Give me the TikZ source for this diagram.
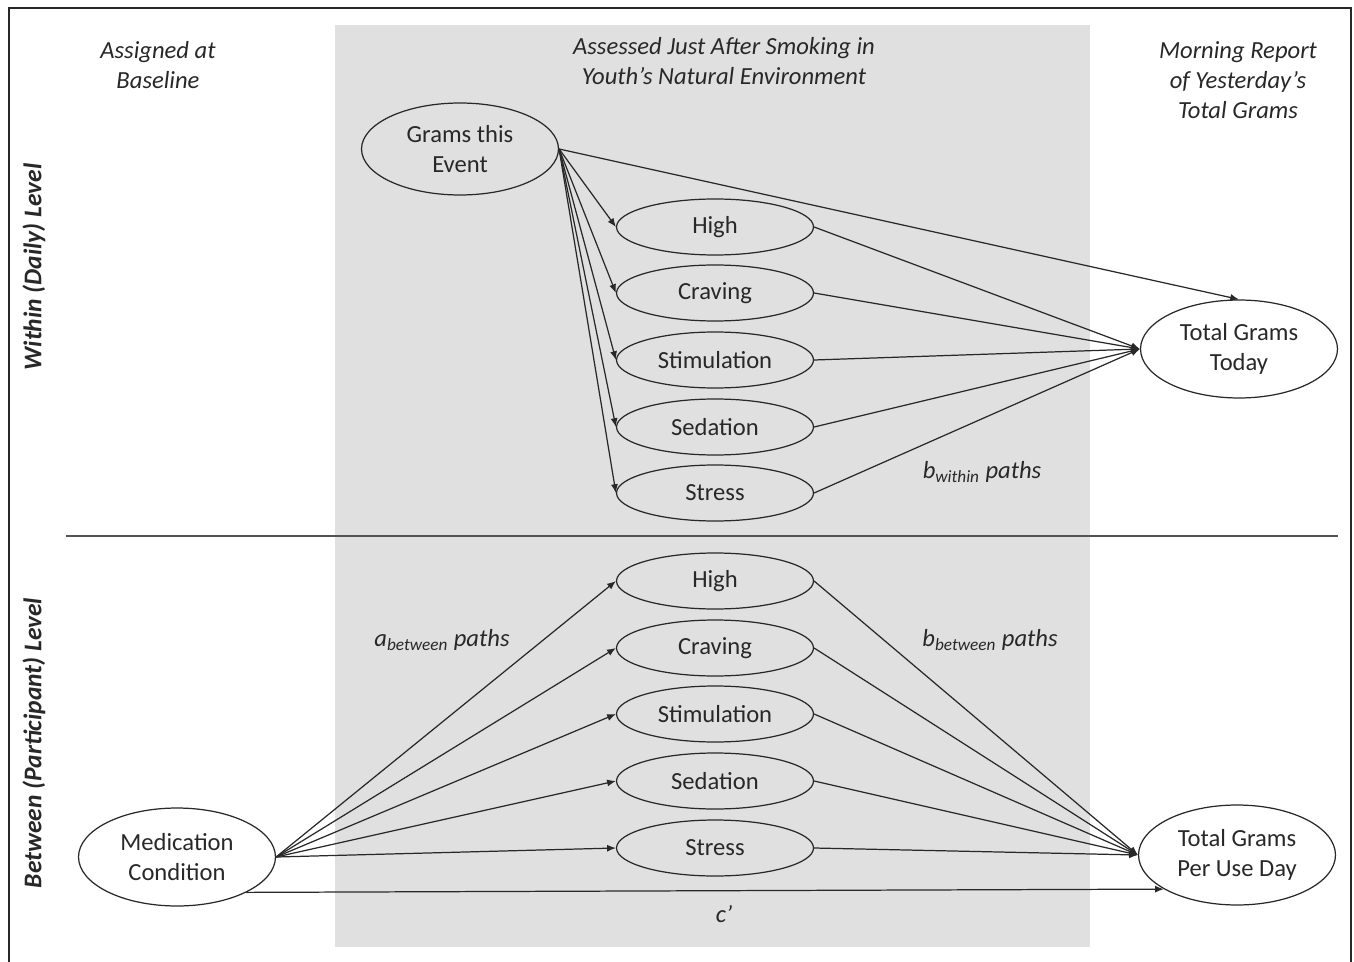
\documentclass[tikz,border=0pt]{standalone}
\usepackage{fontspec}
\setmainfont{Carlito}
\usetikzlibrary{shapes.geometric, arrows.meta}
\definecolor{Panelgray}{RGB}{224,224,224}
\definecolor{Inkgray}{RGB}{40,40,40}

\begin{document}
\begin{tikzpicture}[x=0.02cm, y=-0.02cm,
        txt/.style={text=Inkgray, font=\fontsize{14}{17}\selectfont, align=center},
        hd/.style={txt, font=\fontsize{14}{17}\selectfont\itshape},
        side/.style={txt, font=\fontsize{14.5}{17}\selectfont\bfseries\itshape, rotate=90},
        oval/.style={txt, draw=Inkgray, ellipse, inner sep=0pt, line width=0.7pt, minimum width=3.94cm},
        med/.style={oval, minimum height=1.12cm},
        arr/.style={draw=Inkgray, line width=0.7pt, ->, >={Latex[length=5pt,width=4pt]}}]
      \useasboundingbox (0,0) rectangle (1354,962);
      \fill[Panelgray] (335,25) rectangle (1090,947);
      \draw[Inkgray, line width=1.4pt] (9,962) -- (9,8) -- (1351,8) -- (1351,962);
      \draw[Inkgray!80, line width=0.8pt] (66,536) -- (1338,536);
      % column and row headings
      \node[hd] (hbase) at (158,65){Assigned at\\Baseline};
      \node[hd] (hjust) at (724,61){Assessed Just After Smoking in\\Youth’s Natural Environment};
      \node[hd] (hmorn) at (1238,80){Morning Report\\of Yesterday’s\\Total Grams};
      \node[side] (lwithin) at (34,267){Within (Daily) Level};
      \node[side] (lbetween) at (34,743){Between (Participant) Level};
      % within level
      \node[oval, minimum height=1.84cm] (ev) at (460,149){Grams this\\Event};
      \node[oval, minimum height=1.96cm] (tgt) at (1239,349){Total Grams\\Today};
      \draw[arr] (ev.east) -- (tgt.north);
      \foreach \lab/\nm/\y in {High/hi/227, Craving/cr/293, Stimulation/st/360, Sedation/se/427, Stress/ss/493}{
            \node[med] (w\nm) at (715,\y){\lab};
            \draw[arr] (ev.east) -- (w\nm.west);
            \draw[arr] (w\nm.east) -- (tgt.west);
      }
      \node[hd] (lbw) at (982,472){\textit{b}\textsubscript{within} paths};
      % between level
      \node[oval, minimum height=1.96cm] (mc) at (177,857){Medication\\Condition};
      \node[oval, minimum height=2cm] (pud) at (1237,855){Total Grams\\Per Use Day};
      \foreach \lab/\nm/\y in {High/hi/581, Craving/cr/648, Stimulation/st/714, Sedation/se/781, Stress/ss/848}{
            \node[med] (b\nm) at (715,\y){\lab};
            \draw[arr] (mc.east) -- (b\nm.west);
            \draw[arr] (b\nm.east) -- (pud.west);
      }
      \draw[arr] (mc.-27) -- (pud.205);
      \node[hd] (lab) at (442,640){\textit{a}\textsubscript{between} paths};
      \node[hd] (lbb) at (990,640){\textit{b}\textsubscript{between} paths};
      \node[hd] (lc) at (724,914){c’};
\end{tikzpicture}
\end{document}
